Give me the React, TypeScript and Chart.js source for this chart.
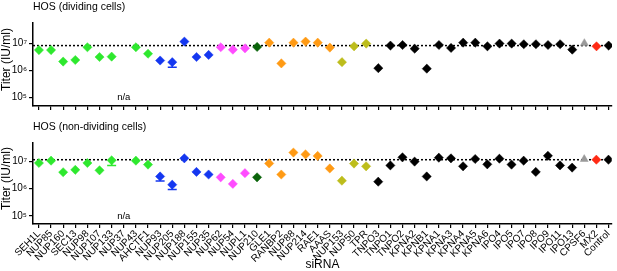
import React, { useEffect, useRef } from 'react';
import { Chart, registerables } from 'chart.js';

Chart.register(...registerables);

const siRNA = [
  'SEH1L', 'NUP85', 'NUP160', 'SEC13', 'NUP98', 'NUP107', 'NUP133', 'NUP37', 'NUP43', 'AHCTF1',
  'NUP93', 'NUP205', 'NUP188', 'NUP155', 'NUP35', 'NUP62', 'NUP54', 'NUPL1', 'NUP210', 'GLE1',
  'RANBP2', 'NUP88', 'NUP214', 'RAE1', 'AAAS', 'NUP153', 'NUP50', 'TPR', 'TNPO3', 'TNPO1',
  'TNPO2', 'KPNA2', 'KPNB1', 'KPNA1', 'KPNA3', 'KPNA4', 'KPNA5', 'KPNA6', 'IPO4', 'IPO5',
  'IPO7', 'IPO8', 'IPO9', 'IPO11', 'IPO13', 'CPSF6', 'MX2', 'Control',
];

const dividingTiter: (number | null)[] = [
  5.6e6, 5.6e6, 2.1e6, 2.4e6, 7.1e6, 3.1e6, 3.2e6, null, 7.1e6, 4.1e6,
  2.3e6, 2.0e6, 1.15e7, 3.1e6, 3.7e6, 7.1e6, 5.8e6, 6.5e6, 7.3e6, 1.05e7,
  1.8e6, 1.05e7, 1.15e7, 1.05e7, 6.9e6, 2.0e6, 7.7e6, 9.7e6, 1.2e6, 8.2e6,
  8.6e6, 6.3e6, 1.15e6, 8.6e6, 6.7e6, 1.05e7, 1.05e7, 7.7e6, 9.7e6, 9.7e6,
  9.2e6, 9.2e6, 8.6e6, 9.2e6, 5.8e6, 1.0e7, 7.7e6, 8.2e6,
];

const dividingErrLow: (number | null)[] = [
  null, null, null, null, null, null, null, null, null, null,
  null, 1.3e6, null, null, null, null, null, null, null, null,
  null, null, null, null, null, null, null, null, null, null,
  null, null, null, null, null, null, null, null, null, null,
  null, null, null, null, null, null, null, null,
];

const nonDividingTiter: (number | null)[] = [
  8.7e6, 1.06e7, 4.0e6, 4.9e6, 8.7e6, 4.7e6, 1.09e7, null, 1.06e7, 7.6e6,
  2.8e6, 1.4e6, 1.29e7, 4.1e6, 3.3e6, 2.6e6, 1.5e6, 3.7e6, 2.6e6, 8.4e6,
  3.3e6, 2.1e7, 1.8e7, 1.58e7, 5.5e6, 1.96e6, 8.3e6, 6.6e6, 1.8e6, 7.1e6,
  1.4e7, 9.8e6, 2.8e6, 1.36e7, 1.29e7, 6.6e6, 1.22e7, 7.8e6, 1.25e7, 7.6e6,
  1.06e7, 4.1e6, 1.6e7, 7.1e6, 5.9e6, 1.2e7, 1.15e7, 1.15e7,
];

const nonDividingErrLow: (number | null)[] = [
  null, null, null, null, null, null, 7.1e6, null, null, null,
  1.9e6, 0.94e6, null, null, null, null, null, null, null, null,
  null, null, null, null, null, null, null, null, null, null,
  null, null, null, null, null, null, null, null, null, null,
  null, null, null, null, null, null, null, null,
];

const controlDividing = 8.2e6;
const controlNonDividing = 1.15e7;

const yTicks = [1e5, 1e6, 1e7];
const yTickLabels = ['10\u2075', '10\u2076', '10\u2077'];

// groups of consecutive siRNAs sharing a colour
const groupSizes = [10, 5, 3, 1, 6, 3, 17, 1, 1, 1];
const groupColors = ['#2ee82e', '#1437f0', '#ff4cff', '#0a640a', '#ff9a14', '#bdbd1c', '#000000', '#9a9a9a', '#ff2a14', '#000000'];
const groupShapes = ['rectRot', 'rectRot', 'rectRot', 'rectRot', 'rectRot', 'rectRot', 'rectRot', 'triangle', 'rectRot', 'rectRot'];

const pointColors: string[] = [];
const pointShapes: string[] = [];
groupSizes.forEach((n, g) => {
  for (let k = 0; k < n; k++) {
    pointColors.push(groupColors[g]);
    pointShapes.push(groupShapes[g]);
  }
});

const FONT = '"Liberation Sans", Arial, Helvetica, sans-serif';

type PanelProps = {
  title: string;
  values: (number | null)[];
  errLow: (number | null)[];
  control: number;
  yMin: number;
  yMax: number;
  showLabels: boolean;
  height: number;
  top: number;
  padTop: number;
  xAxisHeight: number;
};

function Panel(props: PanelProps) {
  const ref = useRef<HTMLCanvasElement>(null);
  useEffect(() => {
    const { title, values, errLow, control, yMin, yMax, showLabels, padTop, xAxisHeight } = props;
    const points = values.map((v, i) => ({ x: i, y: v }));

    const extras = {
      id: 'extras',
      beforeDatasetsDraw(chart: any) {
        const { ctx, chartArea, scales } = chart;
        const xs = scales.x;
        const ys = scales.y;
        ctx.save();
        const yc = ys.getPixelForValue(control);
        ctx.setLineDash([2, 2]);
        ctx.strokeStyle = '#000';
        ctx.lineWidth = 1.5;
        ctx.beginPath();
        ctx.moveTo(chartArea.left, yc);
        ctx.lineTo(chartArea.right, yc);
        ctx.stroke();
        ctx.setLineDash([]);
        errLow.forEach((e, i) => {
          const v = values[i];
          if (e == null || v == null) return;
          const px = xs.getPixelForValue(i);
          const p0 = ys.getPixelForValue(v);
          const p1 = ys.getPixelForValue(e);
          ctx.strokeStyle = pointColors[i];
          ctx.lineWidth = 1.5;
          ctx.beginPath();
          ctx.moveTo(px, p0);
          ctx.lineTo(px, p1);
          ctx.moveTo(px - 4.5, p1);
          ctx.lineTo(px + 4.5, p1);
          ctx.stroke();
        });
        ctx.restore();
      },
      afterDraw(chart: any) {
        const { ctx, chartArea, scales } = chart;
        ctx.save();
        ctx.fillStyle = '#000';
        ctx.font = `10.5px ${FONT}`;
        ctx.textAlign = 'left';
        ctx.textBaseline = 'alphabetic';
        ctx.fillText(title, 33, 10);
        ctx.font = `9.5px ${FONT}`;
        ctx.textAlign = 'center';
        ctx.textBaseline = 'middle';
        values.forEach((v, i) => {
          if (v == null) ctx.fillText('n/a', scales.x.getPixelForValue(i), scales.y.getPixelForValue(1e5));
        });
        ctx.font = `12px ${FONT}`;
        ctx.translate(7, (chartArea.top + chartArea.bottom) / 2 - 5);
        ctx.rotate(-Math.PI / 2);
        ctx.fillText('Titer (IU/ml)', 0, 0);
        ctx.restore();
      },
    };

    const chart = new Chart(ref.current as HTMLCanvasElement, {
      type: 'scatter',
      data: {
        datasets: [
          {
            data: points as any,
            pointBackgroundColor: pointColors,
            pointBorderColor: pointColors,
            pointStyle: pointShapes as any,
            pointRadius: 4.6,
            pointBorderWidth: 0.5,
          },
        ],
      },
      options: {
        animation: false,
        responsive: false,
        devicePixelRatio: 1,
        layout: { padding: { top: padTop, right: 2.5, left: 0, bottom: 0 } },
        plugins: { legend: { display: false }, tooltip: { enabled: false }, title: { display: false } },
        scales: {
          x: {
            type: 'linear',
            min: -0.49,
            max: 47.27,
            afterBuildTicks: (scale: any) => {
              scale.ticks = siRNA.map((_, i) => ({ value: i }));
            },
            afterFit: (scale: any) => {
              scale.height = xAxisHeight;
            },
            ticks: {
              display: showLabels,
              autoSkip: false,
              maxRotation: 45,
              minRotation: 45,
              padding: 0,
              color: '#000',
              font: { family: FONT, size: 10 },
              callback: (_v: any, i: number) => siRNA[i],
            },
            grid: { drawOnChartArea: false, drawTicks: true, tickLength: 4, color: '#000', lineWidth: 1.2 },
            border: { display: true, color: '#000', width: 1.5 },
            title: {
              display: showLabels,
              text: 'siRNA',
              color: '#000',
              font: { family: FONT, size: 12, lineHeight: 1 },
              padding: { top: 0, bottom: 0 },
            },
          },
          y: {
            type: 'logarithmic',
            min: yMin,
            max: yMax,
            afterBuildTicks: (scale: any) => {
              scale.ticks = yTicks.map((v) => ({ value: v, major: true }));
            },
            afterFit: (scale: any) => {
              scale.width = 33;
            },
            ticks: {
              color: '#000',
              padding: 2,
              font: { family: FONT, size: 10 },
              callback: (_v: any, i: number) => yTickLabels[i],
            },
            grid: { drawOnChartArea: false, drawTicks: true, tickLength: 4, color: '#000', lineWidth: 1.2 },
            border: { display: true, color: '#000', width: 1.5 },
          },
        },
      },
      plugins: [extras],
    });
    return () => chart.destroy();
  }, []);

  return (
    <canvas
      ref={ref}
      width={617}
      height={props.height}
      style={{ position: 'absolute', left: 0, top: props.top, width: 617, height: props.height, display: 'block' }}
    />
  );
}

export default function App() {
  return (
    <div style={{ position: 'absolute', left: 0, top: 0, width: 617, height: 271, background: '#fff' }}>
      <Panel
        title="HOS (dividing cells)"
        values={dividingTiter}
        errLow={dividingErrLow}
        control={controlDividing}
        yMin={4.8e4}
        yMax={5.6e7}
        showLabels={false}
        height={120}
        top={0}
        padTop={23}
        xAxisHeight={14}
      />
      <Panel
        title="HOS (non-dividing cells)"
        values={nonDividingTiter}
        errLow={nonDividingErrLow}
        control={controlNonDividing}
        yMin={5.1e4}
        yMax={4.7e7}
        showLabels={true}
        height={151}
        top={120}
        padTop={23}
        xAxisHeight={47}
      />
    </div>
  );
}
